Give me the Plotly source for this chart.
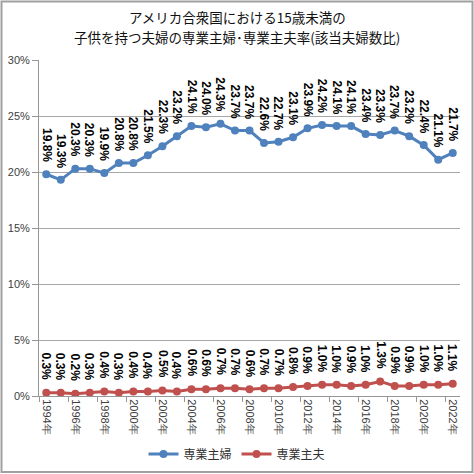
import plotly.graph_objects as go

years = list(range(1994, 2023))
housewife = [19.8, 19.3, 20.3, 20.3, 19.9, 20.8, 20.8, 21.5, 22.3, 23.2,
             24.1, 24.0, 24.3, 23.7, 23.7, 22.6, 22.7, 23.1, 23.9, 24.2,
             24.1, 24.1, 23.4, 23.3, 23.7, 23.2, 22.4, 21.1, 21.7]
househusband = [0.3, 0.3, 0.2, 0.3, 0.4, 0.3, 0.4, 0.4, 0.5, 0.4,
                0.6, 0.6, 0.7, 0.7, 0.6, 0.7, 0.7, 0.8, 0.9, 1.0,
                1.0, 0.9, 1.0, 1.3, 0.9, 0.9, 1.0, 1.0, 1.1]
series_names = ["専業主婦", "専業主夫"]
title_lines = ["アメリカ合衆国における15歳未満の", "子供を持つ夫婦の専業主婦･専業主夫率(該当夫婦数比)"]
tick_years = list(range(1994, 2023, 2))
tick_labels = [f"{y}年" for y in tick_years]
y_ticks = [0, 5, 10, 15, 20, 25, 30]
y_tick_labels = [f"{v}%" for v in y_ticks]

BLUE = "#4F81BD"
RED = "#C0504D"
W, H = 474, 474
ML, MR, MT, MB = 39, 14, 60, 78
PW, PH = W - ML - MR, H - MT - MB


def px_to_paper(px, py):
    return (px - ML) / PW, (H - MB - py) / PH


fig = go.Figure()
for name, vals, col in [(series_names[0], housewife, BLUE), (series_names[1], househusband, RED)]:
    fig.add_trace(go.Scatter(
        x=years, y=vals, name=name, mode="lines+markers",
        line=dict(color=col, width=3),
        marker=dict(color=col, size=8),
    ))
    for x, v in zip(years, vals):
        fig.add_annotation(
            x=x, y=v, xref="x", yref="y", text=f"{v:.1f}%", showarrow=False,
            textangle=90, xanchor="center", yanchor="bottom", yshift=10,
            font=dict(family="Liberation Sans, Arial, sans-serif", size=12, color="#000000", weight="bold"),
        )

# title lines
for line, py in zip(title_lines, [17, 37]):
    tx, ty = px_to_paper(237, py)
    fig.add_annotation(
        x=tx, y=ty, xref="paper", yref="paper", text=line, showarrow=False,
        xanchor="center", yanchor="middle",
        font=dict(family="Noto Sans CJK JP", size=13.5, color="#111111"),
    )

lx, ly = px_to_paper(237, 454)
fx0, fy0 = px_to_paper(1.5, 472)
fx1, fy1 = px_to_paper(472.5, 1.5)

fig.update_layout(
    width=W, height=H,
    margin=dict(l=ML, r=MR, t=MT, b=MB, autoexpand=False),
    paper_bgcolor="white", plot_bgcolor="white",
    showlegend=True,
    legend=dict(
        orientation="h", x=lx, xanchor="center", y=ly, yanchor="middle",
        font=dict(family="Noto Sans CJK JP", size=12, color="#333333"),
        bgcolor="rgba(0,0,0,0)",
    ),
    xaxis=dict(
        range=[1993.5, 2022.5], tickvals=tick_years, ticktext=tick_labels,
        tickangle=90, ticks="", showgrid=False, zeroline=False, automargin=False,
        showline=True, linecolor="#969696", linewidth=1,
        tickfont=dict(family="Liberation Sans, Arial, sans-serif", size=11, color="#404040"),
        minor=dict(tick0=1993.5, dtick=2, ticks="outside", ticklen=5, tickcolor="#969696", showgrid=False),
    ),
    yaxis=dict(
        range=[0, 30], tickvals=y_ticks, ticktext=y_tick_labels,
        showgrid=True, gridcolor="#a6a6a6", gridwidth=1, zeroline=False, automargin=False,
        showline=True, linecolor="#969696", linewidth=1,
        ticks="outside", ticklen=6, tickcolor="#969696",
        tickfont=dict(family="Liberation Sans, Arial, sans-serif", size=11, color="#404040"),
    ),
)

# outer frame
fig.add_shape(type="rect", xref="paper", yref="paper",
              x0=fx0, x1=fx1, y0=fy0, y1=fy1,
              line=dict(color="#a0a0a0", width=2), layer="below")

fig.write_html("out.html",
               config={"displayModeBar": False},
               post_script="document.body.style.margin='0';document.body.style.overflow='hidden';")
